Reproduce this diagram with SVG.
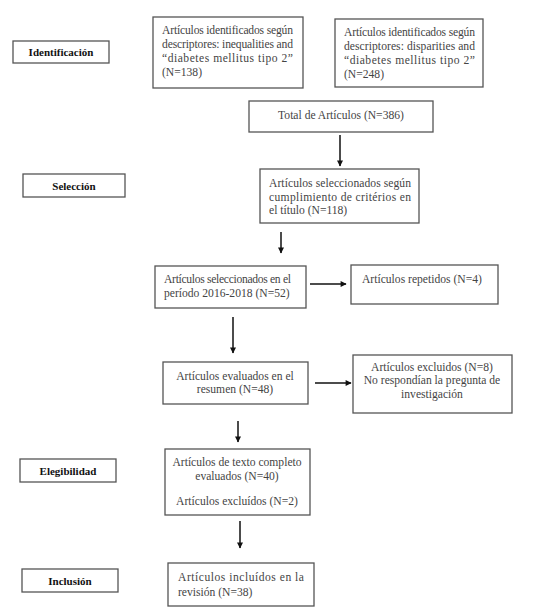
<svg xmlns="http://www.w3.org/2000/svg" width="553" height="616" viewBox="0 0 553 616">
<style>
.box{fill:#fff;stroke:#555;stroke-width:1.3}
.t{font-family:'Liberation Serif','Times New Roman',Times,serif;font-size:11.6px;fill:#444}
.c{text-anchor:middle}
.lab{font-family:'Liberation Serif','Times New Roman',Times,serif;font-size:11px;font-weight:bold;fill:#111;text-anchor:middle}
.ar{stroke:#111;stroke-width:1.5;fill:none;marker-end:url(#ah)}
</style>
<defs>
<marker id="ah" viewBox="0 0 10 10" refX="9" refY="5" markerWidth="7" markerHeight="6" markerUnits="userSpaceOnUse" orient="auto">
<path d="M0,0 L10,5 L0,10 z" fill="#111"/>
</marker>
</defs>
<rect width="553" height="616" fill="#fff"/>
<g id="identificacion"><rect class="box" x="13" y="41" width="96" height="22"/><text class="lab" x="61" y="56">Identificación</text></g>
<g id="seleccion"><rect class="box" x="23" y="174" width="102" height="23"/><text class="lab" x="74" y="190">Selección</text></g>
<g id="elegibilidad"><rect class="box" x="20" y="459" width="96" height="23"/><text class="lab" x="68" y="475">Elegibilidad</text></g>
<g id="inclusion"><rect class="box" x="22" y="569" width="96" height="23"/><text class="lab" x="70" y="585">Inclusión</text></g>
<g id="boxA"><rect class="box" x="153" y="17" width="150" height="71"/>
<text class="t" x="162" y="34" textLength="131" lengthAdjust="spacing">Artículos identificados según</text>
<text class="t" x="162" y="48" textLength="131" lengthAdjust="spacing">descriptores: inequalities and</text>
<text class="t" x="162" y="62" textLength="131" lengthAdjust="spacing">“diabetes mellitus tipo 2”</text>
<text class="t" x="162" y="76">(N=138)</text></g>
<g id="boxB"><rect class="box" x="335" y="19" width="148" height="68"/>
<text class="t" x="344" y="36" textLength="131" lengthAdjust="spacing">Artículos identificados según</text>
<text class="t" x="344" y="50" textLength="131" lengthAdjust="spacing">descriptores: disparities and</text>
<text class="t" x="344" y="64" textLength="131" lengthAdjust="spacing">“diabetes mellitus tipo 2”</text>
<text class="t" x="344" y="78">(N=248)</text></g>
<g id="total"><rect class="box" x="249" y="101" width="184" height="31"/>
<text class="t c" x="341" y="119">Total de Artículos (N=386)</text></g>
<g id="sel118"><rect class="box" x="260" y="169" width="159" height="54"/>
<text class="t" x="269" y="187" textLength="142" lengthAdjust="spacing">Artículos seleccionados según</text>
<text class="t" x="269" y="201" textLength="142" lengthAdjust="spacing">cumplimiento de critérios en</text>
<text class="t" x="269" y="214">el título (N=118)</text></g>
<g id="sel52"><rect class="box" x="155" y="266" width="151" height="42"/>
<text class="t" x="164" y="283" textLength="127" lengthAdjust="spacing">Artículos seleccionados en el</text>
<text class="t" x="164" y="297">período 2016-2018 (N=52)</text></g>
<g id="rep"><rect class="box" x="351" y="265" width="147" height="39"/>
<text class="t" x="362" y="283">Artículos repetidos (N=4)</text></g>
<g id="ev48"><rect class="box" x="163" y="362" width="145" height="42"/>
<text class="t c" x="235" y="380">Artículos evaluados en el</text>
<text class="t c" x="235" y="393">resumen (N=48)</text></g>
<g id="excl8"><rect class="box" x="353" y="355" width="159" height="58"/>
<text class="t c" x="432" y="371">Artículos excluidos (N=8)</text>
<text class="t c" x="432" y="384">No respondían la pregunta de</text>
<text class="t c" x="432" y="398">investigación</text></g>
<g id="ev40"><rect class="box" x="165" y="449" width="145" height="66"/>
<text class="t c" x="237" y="466">Artículos de texto completo</text>
<text class="t c" x="237" y="480">evaluados (N=40)</text>
<text class="t c" x="237" y="505">Artículos excluídos (N=2)</text></g>
<g id="inc38"><rect class="box" x="168" y="563" width="146" height="43"/>
<text class="t" x="178" y="581" textLength="126" lengthAdjust="spacing">Artículos incluídos en la</text>
<text class="t" x="178" y="596">revisión (N=38)</text></g>
<g id="connectors">
<line class="ar" x1="340" y1="135" x2="340" y2="166"/>
<line class="ar" x1="281" y1="232" x2="281" y2="253"/>
<line class="ar" x1="310" y1="284" x2="346" y2="284"/>
<line class="ar" x1="233" y1="317" x2="233" y2="353"/>
<line class="ar" x1="315" y1="383" x2="351" y2="383"/>
<line class="ar" x1="238" y1="421" x2="238" y2="442"/>
<line class="ar" x1="240" y1="521" x2="240" y2="548"/>
</g>
</svg>
